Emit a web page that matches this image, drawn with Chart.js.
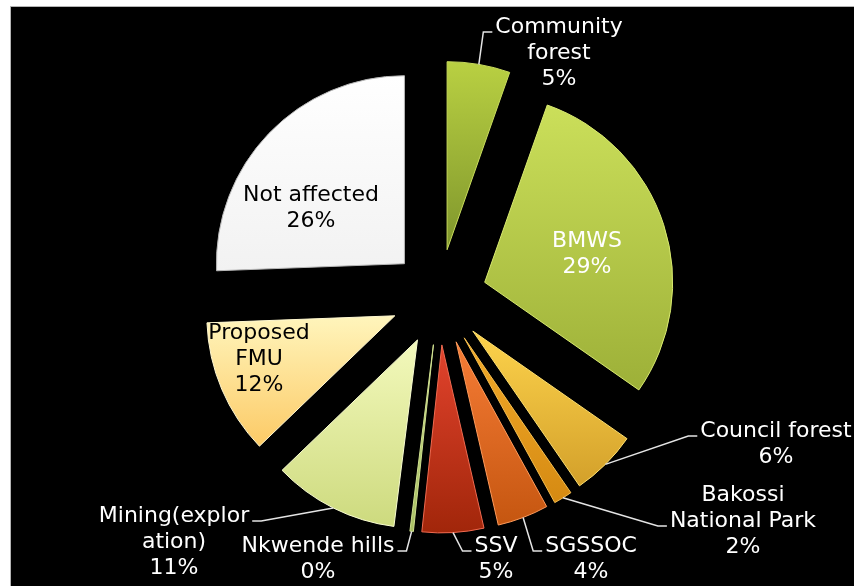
<!DOCTYPE html>
<html>
<head>
<meta charset="utf-8">
<script src="https://cdn.jsdelivr.net/npm/chart.js@4/dist/chart.umd.min.js"></script>
<style>
html, body { margin: 0; padding: 0; background: #fff; }
#wrap { position: relative; width: 854px; height: 586px; overflow: hidden; }
#bg { position: absolute; left: 10px; top: 6px; right: 0; bottom: 0; background: #000;
      border-top: 1px solid #b4b4b4; border-left: 1px solid #b4b4b4; }
canvas { position: absolute; left: 0; top: 0; }
</style>
</head>
<body>
<div id="wrap"><div id="bg"></div><canvas id="pie" width="854" height="586"></canvas></div>
<script>
// slices, clockwise from 12 o'clock
const categories = ['Community forest', 'BMWS', 'Council forest', 'Bakossi National Park',
  'SGSSOC', 'SSV', 'Nkwende hills', 'Mining(exploration)', 'Proposed FMU', 'Not affected'];
const shares = [5.4, 29.3, 5.7, 1.6, 4.4, 5.3, 0.3, 10.8, 11.6, 25.6];

// how the category names wrap in the labels
const labelLines = [['Community', 'forest'], ['BMWS'], ['Council forest'], ['Bakossi', 'National Park'],
  ['SGSSOC'], ['SSV'], ['Nkwende hills'], ['Mining(explor', 'ation)'], ['Proposed', 'FMU'], ['Not affected']];

const topColors    = ['#b9d042', '#cbdf5a', '#fdd34c', '#f3ab2a', '#f67c36', '#e2432d', '#c4d884', '#f3f9bc', '#fff5bc', '#ffffff'];
const bottomColors = ['#7f962c', '#9db038', '#d3a02a', '#d58a12', '#c55610', '#a1260a', '#a9c064', '#cdda7e', '#fcca66', '#f2f2f2'];
const edgeColors   = ['#c9dc5c', '#d9ea70', '#ffe070', '#f8c050', '#ff9a5a', '#f06a50', '#d0e090', '#f8fcd0', '#fff8d0', '#b8b8b8'];
const textColors   = ['#fff', '#fff', '#fff', '#fff', '#fff', '#fff', '#fff', '#fff', '#000', '#000'];

// text block centres and where the leader line joins the text
const labelLayout = [
  { x: 559, y: 53, side: 'left', line: 0 },
  { x: 587, y: 254 },
  { x: 776, y: 444, side: 'left', line: 0 },
  { x: 743, y: 521, side: 'left', line: 1 },
  { x: 591, y: 559, side: 'left', line: 0 },
  { x: 496, y: 559, side: 'left', line: 0 },
  { x: 318, y: 559, side: 'right', line: 0 },
  { x: 174, y: 542, side: 'right', line: 0 },
  { x: 259, y: 359 },
  { x: 311, y: 208 }
];

const EXPLODE = 48;
const RADIUS = 188;
const FONT = '22px "DejaVu Sans", Verdana, sans-serif';
const LINE_H = 26;

function sliceAngles(chart, i) {
  const vals = chart.data.datasets[0].data;
  const total = vals.reduce((a, b) => a + b, 0);
  let a0 = 0;
  for (let k = 0; k < i; k++) a0 += vals[k] / total * Math.PI * 2;
  return [a0, a0 + vals[i] / total * Math.PI * 2];
}

// vertical gradient over the height of each slice
function sliceFill(ctx) {
  const chart = ctx.chart, area = chart.chartArea, i = ctx.dataIndex;
  if (!area) return topColors[i];
  const cy = (area.top + area.bottom) / 2;
  const [a0, a1] = sliceAngles(chart, i);
  const ys = [cy, cy - RADIUS * Math.cos(a0), cy - RADIUS * Math.cos(a1)];
  if (a0 <= Math.PI && a1 >= Math.PI) ys.push(cy + RADIUS);
  const g = chart.ctx.createLinearGradient(0, Math.min(...ys), 0, Math.max(...ys));
  g.addColorStop(0, topColors[i]);
  g.addColorStop(1, bottomColors[i]);
  return g;
}

// pull every slice out by the same distance
const explode = {
  id: 'explode',
  beforeDatasetDraw(chart, args) {
    const ctx = chart.ctx;
    args.meta.data.forEach(arc => {
      const mid = (arc.startAngle + arc.endAngle) / 2;
      ctx.save();
      ctx.translate(Math.cos(mid) * EXPLODE, Math.sin(mid) * EXPLODE);
      arc.draw(ctx, chart.chartArea);
      ctx.restore();
    });
    return false;
  }
};

const sliceLabels = {
  id: 'sliceLabels',
  afterDatasetsDraw(chart) {
    const ctx = chart.ctx;
    const meta = chart.getDatasetMeta(0);
    const vals = chart.data.datasets[0].data;
    const total = vals.reduce((a, b) => a + b, 0);
    ctx.save();
    ctx.font = FONT;
    ctx.textAlign = 'center';
    ctx.textBaseline = 'middle';
    meta.data.forEach((arc, i) => {
      const lay = labelLayout[i];
      const lines = labelLines[i].concat(Math.round(vals[i] / total * 100) + '%');
      const top = lay.y - (lines.length - 1) * LINE_H / 2;
      if (lay.side) {
        const mid = (arc.startAngle + arc.endAngle) / 2;
        const r = arc.outerRadius + EXPLODE;
        const sx = arc.x + Math.cos(mid) * r;
        const sy = arc.y + Math.sin(mid) * r;
        const w = ctx.measureText(lines[lay.line]).width;
        const ly = top + lay.line * LINE_H + 5;
        const ex = lay.side === 'left' ? lay.x - w / 2 - 3 : lay.x + w / 2 + 3;
        const bx = lay.side === 'left' ? ex - 9 : ex + 9;
        ctx.beginPath();
        ctx.moveTo(sx, sy);
        ctx.lineTo(bx, ly);
        ctx.lineTo(ex, ly);
        ctx.strokeStyle = '#e4e4e4';
        ctx.lineWidth = 1.5;
        ctx.stroke();
      }
      ctx.fillStyle = textColors[i];
      lines.forEach((t, k) => ctx.fillText(t, lay.x, top + k * LINE_H));
    });
    ctx.restore();
  }
};

new Chart(document.getElementById('pie'), {
  type: 'pie',
  data: {
    labels: categories,
    datasets: [{
      data: shares,
      backgroundColor: sliceFill,
      borderColor: edgeColors,
      borderWidth: 1,
      borderJoinStyle: 'miter',
      offset: 0,
      hoverOffset: 0
    }]
  },
  options: {
    responsive: false,
    devicePixelRatio: 1,
    animation: false,
    events: [],
    radius: RADIUS,
    layout: { padding: { left: 24, top: 8, right: 0, bottom: 0 } },
    plugins: { legend: { display: false }, tooltip: { enabled: false } }
  },
  plugins: [explode, sliceLabels]
});
</script>
</body>
</html>
